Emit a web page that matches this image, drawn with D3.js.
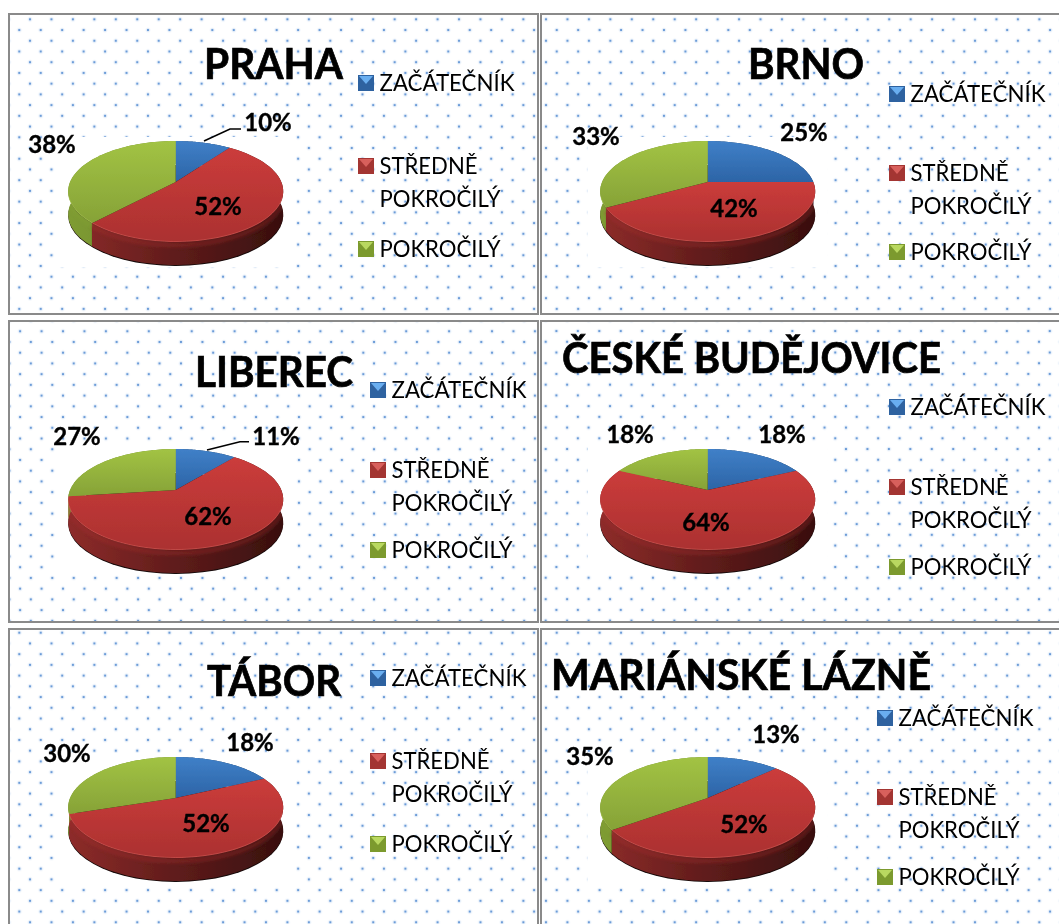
<!DOCTYPE html>
<html><head><meta charset="utf-8">
<script src="https://cdn.jsdelivr.net/npm/d3@7/dist/d3.min.js"></script>
<style>html,body{margin:0;padding:0;background:#fff}svg{display:block}text{font-family:Lato,"Noto Sans",sans-serif;fill:#000}</style>
</head><body><svg id="c" width="1059" height="924"></svg>
<script>
const categories = ["ZAČÁTEČNÍK", ["STŘEDNĚ", "POKROČILÝ"], "POKROČILÝ"];
const cities = ["PRAHA", "BRNO", "LIBEREC", "ČESKÉ BUDĚJOVICE", "TÁBOR", "MARIÁNSKÉ LÁZNĚ"];
const praha = [10, 52, 38];
const brno = [25, 42, 33];
const liberec = [11, 62, 27];
const budejovice = [18, 64, 18];
const tabor = [18, 52, 30];
const lazne = [13, 52, 35];
const seriesValues = [praha, brno, liberec, budejovice, tabor, lazne];

const layout = [
 {box:[9,14,529,300],  cx:175.7,cy:182, title:[204,79,139], legX:358, legY:[83,166,249], lab:[[268,122],[218,206],[52,144]], lead:[[204,141],[230,129],[241,129]], dot:[30,19.3]},
 {box:[541,14,530,300],cx:707.7,cy:182, title:[748,79,116], legX:889, legY:[94,173,252], lab:[[804,132],[734,208],[596,136]], dot:[546,19.3]},
 {box:[9,321,529,301], cx:175.7,cy:490, title:[195,387,158],legX:370, legY:[390,470,550],lab:[[276,436],[208,516],[77,436]], lead:[[207,450],[240,441.7],[249,441.7]], dot:[191.7,352.7]},
 {box:[541,321,530,301],cx:707.7,cy:490,title:[562,373,379],legX:889, legY:[407,487,567],lab:[[782,434],[706,522],[630,434]], dot:[599.3,438.3]},
 {box:[9,629,529,310], cx:175.7,cy:798, title:[207,696,134],legX:370, legY:[678,761,844],lab:[[250,742],[206,823],[67,753]], dot:[19.3,632.7]},
 {box:[541,629,530,310],cx:707.7,cy:798,title:[551,690,380],legX:877, legY:[718,797,877],lab:[[776,734],[744,824],[590,756]], dot:[556.7,632.7]}
];

const R=105.6, Ry=48.7, K=0.188, DEPTH=23;
const topCols=[["#4080c8","#2c64a6"],["#cb3c3b","#ab3130"],["#a2c344","#86a237"]];
const sideCols=[["#33618f","#173252"],["#8e2c2a","#380f0e"],["#7f9c33","#54701e"]];
const legBase=["#2f62a0","#a33432","#7b9a2f"];
const legTri=["#69aef0","#d8605c","#b9d860"];
const rimCols=["#6fa3dc","#d5625d","#b8d362"];

const svg=d3.select("#c"), defs=svg.append("defs");
function grad(id,c){
  const g=defs.append("linearGradient").attr("id",id).attr("x1",0).attr("y1",0).attr("x2",0).attr("y2",1);
  g.append("stop").attr("offset",0).attr("stop-color",c[0]);
  g.append("stop").attr("offset",1).attr("stop-color",c[1]);
}
topCols.forEach((c,i)=>grad("t"+i,c));
sideCols.forEach((c,i)=>{
  layout.forEach((p,j)=>{
    const g=defs.append("linearGradient").attr("id",`s${i}_${j}`).attr("gradientUnits","userSpaceOnUse")
      .attr("x1",p.cx-108).attr("x2",p.cx+108).attr("y1",0).attr("y2",0);
    g.append("stop").attr("offset",0).attr("stop-color",c[0]);
    g.append("stop").attr("offset",.5).attr("stop-color",d3.interpolateRgb(c[0],c[1])(.55));
    g.append("stop").attr("offset",1).attr("stop-color",c[1]);
  });
});
defs.append("filter").attr("id","soft").attr("x","-2%").attr("y","-2%").attr("width","104%").attr("height","104%")
  .attr("filterUnits","objectBoundingBox")
  .append("feGaussianBlur").attr("stdDeviation",.45);
defs.append("filter").attr("id","glow").attr("x","-10%").attr("y","-30%").attr("width","120%").attr("height","160%")
  .append("feGaussianBlur").attr("stdDeviation",1.6);

const pie=d3.pie().sort(null).value(d=>d);
const line=d3.line();
const project=(p,a,dz=0)=>{
  const u=Math.sin(a), v=Math.cos(a), s=1/(1+K*v);
  return [p.cx+R*u*s, p.cy-Ry*v*s+dz];
};
const arcPts=(p,a0,a1,dz=0)=>d3.range(0,61).map(i=>project(p,a0+(a1-a0)*i/60,dz));

const root=svg.append("g").attr("filter","url(#soft)");
root.append("rect").attr("width",1059).attr("height",924).attr("fill","#fff");

layout.forEach((p,j)=>{
  const g=root.append("g");
  const [bx,by,bw,bh]=p.box;
  const step=21.45, half=step/2;
  const pat=defs.append("pattern").attr("id","dots"+j).attr("patternUnits","userSpaceOnUse")
    .attr("width",step).attr("height",step).attr("x",p.dot[0]).attr("y",p.dot[1]);
  const spots=[[0,0],[step,0],[0,step],[step,step],[half,half]];
  spots.forEach(d=>pat.append("circle").attr("cx",d[0]).attr("cy",d[1]).attr("r",2.5).attr("fill","#f1f6fc"));
  spots.forEach(d=>pat.append("circle").attr("cx",d[0]).attr("cy",d[1]).attr("r",1.2).attr("fill","#6b9cd8"));
  g.append("rect").attr("x",bx).attr("y",by).attr("width",bw).attr("height",bh).attr("fill",`url(#dots${j})`)
    .attr("stroke","#8a8a8a").attr("stroke-width",2);
  g.append("rect").attr("x",p.cx-120).attr("y",p.cy-45).attr("width",240).attr("height",130).attr("fill","#fff");

  g.append("text").attr("x",p.title[0]).attr("y",p.title[1]).attr("font-size",42).attr("font-weight",700)
    .attr("stroke","#000").attr("stroke-width",.7)
    .attr("textLength",p.title[2]).attr("lengthAdjust","spacingAndGlyphs").text(cities[j]);

  categories.forEach((c,i)=>{
    const y=p.legY[i], x=p.legX;
    g.append("rect").attr("x",x).attr("y",y-8).attr("width",16).attr("height",16).attr("fill",legBase[i]);
    g.append("path").attr("d",line([[x+1,y-7],[x+15,y-7],[x+8,y+1]])+"Z").attr("fill",legTri[i]);
    const lines=Array.isArray(c)?c:[c];
    lines.forEach((t,k)=>{
      g.append("text").attr("x",x+21.5).attr("y",y+7.5+k*33).attr("font-size",22.5)
       .attr("textLength",t==="ZAČÁTEČNÍK"?135:(t==="STŘEDNĚ"?98:121)).attr("lengthAdjust","spacingAndGlyphs").text(t);
    });
  });

  const arcs=pie(seriesValues[j]);
  g.append("path").attr("d",line(arcPts(p,0,2*Math.PI,DEPTH+1))+"Z").attr("fill","#140707");
  const clipId="w"+j;
  const clip=defs.append("clipPath").attr("id",clipId);
  arcs.forEach((a,i)=>{
    const top=arcPts(p,a.startAngle,a.endAngle), bot=arcPts(p,a.startAngle,a.endAngle,DEPTH).reverse();
    const d=line(top.concat(bot))+"Z";
    g.append("path").attr("d",d).attr("fill",`url(#s${i}_${j})`);
    clip.append("path").attr("d",d);
  });
  const band=g.append("g").attr("clip-path",`url(#${clipId})`);
  arcs.forEach((a,i)=>{
    const s=Math.max(a.startAngle,Math.PI*0.35), e=Math.min(a.endAngle,Math.PI*1.65);
    if(e>s) band.append("path").attr("d",line(arcPts(p,s,e,3))).attr("fill","none")
      .attr("stroke",topCols[i][1]).attr("stroke-width",5).attr("opacity",.3).attr("filter","url(#glow)");
  });
  arcs.forEach((a,i)=>{
    const pts=[[p.cx,p.cy]].concat(arcPts(p,a.startAngle,a.endAngle));
    g.append("path").attr("d",line(pts)+"Z").attr("fill",`url(#t${i})`);
  });
  arcs.forEach((a,i)=>{
    const s=Math.max(a.startAngle,Math.PI*0.6), e=Math.min(a.endAngle,Math.PI*1.4);
    if(e>s) g.append("path").attr("d",line(arcPts(p,s,e,-0.5))).attr("fill","none")
      .attr("stroke",rimCols[i]).attr("stroke-width",1).attr("opacity",.5);
  });

  if(p.lead) g.append("path").attr("d",line(p.lead)).attr("fill","none").attr("stroke","#000").attr("stroke-width",1.6);
  arcs.forEach((a,i)=>{
    g.append("text").attr("x",p.lab[i][0]).attr("y",p.lab[i][1]+8.5).attr("text-anchor","middle")
      .attr("font-size",24).attr("font-weight",700).attr("stroke","#000").attr("stroke-width",.35).text(a.data+"%");
  });
});
</script></body></html>
